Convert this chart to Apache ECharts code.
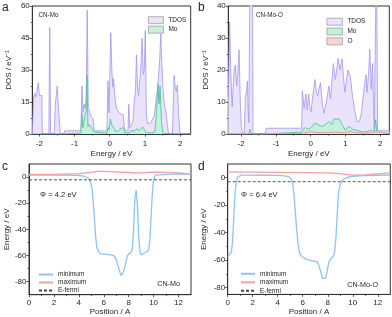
<!DOCTYPE html>
<html><head><meta charset="utf-8">
<script src="https://cdn.jsdelivr.net/npm/echarts@6/dist/echarts.min.js"></script>
<style>html,body{margin:0;padding:0;background:#fff}#c{width:392px;height:317px}</style>
</head><body><div id="c"></div>
<script>
// ---------- Panel a : CN-Mo DOS (energy eV, DOS) ----------
const tdosA = [[-2.2,0],[-2.18,0],[-2.16,17],[-2.13,19],[-2.1,17.5],[-2.07,20],[-2.03,24],[-2.0,18],[-1.97,17.5],[-1.93,18],[-1.915,0],
 [-1.73,0],[-1.705,50],[-1.68,0],
 [-1.58,0],[-1.545,14],[-1.52,18],[-1.49,22.5],[-1.46,13],[-1.42,4],[-1.41,0],
 [-1.3,0],[-1.28,1.5],[-0.82,1.5],[-0.79,22.5],[-0.76,10],[-0.73,14],[-0.70,12],[-0.67,16],[-0.64,58],[-0.61,12],[-0.58,11],[-0.54,8.5],[-0.5,8.2],[-0.47,7],[-0.44,1.5],
 [-0.08,1.5],[-0.05,25],[-0.02,10],[0.01,10],[0.03,47.5],[0.06,30],[0.09,22],[0.11,26],[0.14,18],[0.19,12],[0.25,10.5],[0.3,9.5],[0.35,9],[0.38,9],[0.42,3],[0.45,1.5],
 [0.52,1.5],[0.54,14],[0.57,3],[0.62,3],[0.66,6],[0.7,16],[0.73,20],[0.76,37],[0.79,22],[0.82,18],[0.85,25],[0.88,30],[0.92,45],[0.95,28],[0.98,30],[1.01,48.5],[1.04,10],[1.07,5],
 [1.15,5],[1.2,5.5],[1.26,8],[1.31,15],[1.36,22],[1.39,28],[1.42,35],[1.45,47],[1.48,33],[1.51,22],[1.55,14],[1.6,10],[1.64,4],[1.67,0],
 [1.78,0],[1.83,27.5],[1.86,22],[1.89,20],[1.92,23],[1.96,8],[2.0,0],[2.3,0]];
const moA = [[-2.2,0],[-1.28,0],[-0.82,0.5],[-0.79,9.5],[-0.76,3],[-0.73,2.5],[-0.70,9],[-0.67,10.5],[-0.645,27.5],[-0.62,3.5],[-0.58,4.5],[-0.55,5],[-0.5,2.5],[-0.46,1],[-0.44,0.3],
 [-0.08,0.3],[-0.05,3],[-0.02,2],[0.02,7],[0.05,4.5],[0.09,5],[0.13,2.5],[0.18,1],[0.25,1.5],[0.3,2.5],[0.35,3.2],[0.39,3],[0.43,0.5],[0.55,0.5],[0.6,1.5],[0.7,1.5],[0.78,2.5],[0.82,1.5],[0.88,2.5],[0.94,3.2],[0.99,3],[1.03,0.8],
 [1.2,0.5],[1.28,1],[1.32,8],[1.37,23.5],[1.40,14],[1.43,22.5],[1.47,6],[1.51,0.5],[1.6,0.2],[2.3,0]];

// ---------- Panel b : CN-Mo-O DOS ----------
const tdosB = [[-2.37,12],[-2.33,35],[-2.3,20],[-2.26,8.5],[-2.21,19],[-2.17,21.5],[-2.13,15],[-2.09,20],[-2.06,26.3],[-2.03,12],[-2.0,3],[-1.97,0.3],[-1.91,0.3],[-1.88,11.5],[-1.85,13],[-1.82,16.5],[-1.8,8],[-1.78,3.5],[-1.76,30],[-1.74,60],[-1.70,70],[-1.675,55],[-1.66,0],
 [-1.3,0],[-1.28,1.8],[-0.26,1.8],[-0.24,13.5],[-0.19,8],[-0.14,12.5],[-0.1,7.5],[-0.06,12.5],[-0.02,8],[0.01,7],[0.06,12],[0.12,17],[0.17,13],[0.2,12],[0.28,16],[0.33,10],[0.38,6.5],[0.45,10],[0.52,15],[0.57,11],[0.65,22],[0.71,17],[0.79,23.7],[0.84,20],[0.9,23.5],[0.98,13],[1.07,20],[1.14,18],[1.2,12],[1.27,7],[1.33,3.8],[1.4,4],[1.45,6],[1.52,13],[1.59,18.5],[1.62,13],[1.67,20],[1.70,26.5],[1.74,14],[1.78,22],[1.81,8],[1.83,1.5],[1.87,1],[1.89,60],[1.91,60],[1.925,1],[2.26,1]];
const moB = [[-2.37,0],[-1.78,0],[-1.75,1.5],[-1.72,0.2],[-1.66,0],[-1.3,0],[-1.28,0.6],[-0.26,0.6],[-0.22,1.5],[-0.15,2],[-0.08,1.5],[0.0,2],[0.06,2.5],[0.12,3.5],[0.2,3],[0.28,2.5],[0.36,2.5],[0.45,3.2],[0.52,4],[0.6,3],[0.67,4.8],[0.75,4.5],[0.81,4.9],[0.9,3],[0.99,1.3],[1.06,2],[1.13,2.3],[1.2,1.5],[1.27,1.3],[1.37,1],[1.5,0.6],[1.65,0.8],[1.75,1.2],[1.82,0.5],[1.87,4.5],[1.9,0.3],[2.26,0.2]];
const oB = [[-2.37,0],[-1.28,0],[-1.27,0.2],[-0.26,0.2],[-0.2,0.4],[-0.05,0.6],[0.02,0.9],[0.1,0.5],[0.3,0.4],[0.5,0.5],[0.7,0.6],[0.9,0.4],[1.05,0.6],[1.15,0.9],[1.25,0.5],[1.5,0.3],[1.75,0.4],[1.85,0.8],[1.9,0.3],[2.26,0.1]];

// ---------- Panel c : CN-Mo potential (position A, energy eV) ----------
const minC = [[0,1.5],[1,1.5],[2,1.5],[3,1.5],[4,1.2],[4.4,0.8],[4.7,-0.5],[4.9,-3],[5.05,-8],[5.15,-18],[5.25,-32],[5.35,-46],[5.45,-54],[5.6,-57.5],[5.8,-58.8],[6.2,-59.2],[6.6,-59.6],[6.85,-60.5],[7.0,-63],[7.15,-68],[7.3,-73],[7.4,-75.5],[7.5,-75],[7.6,-72],[7.75,-66],[7.9,-60],[8.05,-59],[8.2,-57.5],[8.3,-54],[8.4,-38],[8.5,-16],[8.6,-10],[8.7,-22],[8.8,-45],[8.9,-57],[9.0,-59.5],[9.2,-58.5],[9.4,-57.5],[9.6,-56],[9.7,-48],[9.8,-30],[9.9,-12],[10.0,-2],[10.15,1.5],[10.3,2],[11,2],[12,2.2],[13,2.3]];
const maxC = [[0,2],[2,2.1],[4,2.6],[5,3.6],[5.5,4.3],[6,4.3],[7,3.9],[8,3.5],[8.5,3.3],[9,3.2],[9.5,3.6],[10,3.8],[11,3.6],[12,3.1],[13,2.5]];
const fermiC = [[0,-2.1],[13,-2.1]];

// ---------- Panel d : CN-Mo-O potential ----------
const minD = [[0,-57.7],[0.15,-57],[0.3,-54],[0.4,-45],[0.48,-30],[0.55,-17],[0.62,-8],[0.7,-2.5],[0.8,0.5],[0.95,1.6],[1.1,1.9],[2,1.9],[3,1.8],[4,1.7],[4.5,1.4],[4.9,0.8],[5.1,-1],[5.2,-4],[5.3,-12],[5.4,-24],[5.5,-36],[5.6,-46],[5.7,-53],[5.8,-56],[6.0,-57.7],[6.3,-59.5],[6.8,-60.5],[7.15,-61.3],[7.3,-64],[7.45,-69],[7.6,-73.5],[7.75,-74.8],[7.85,-73],[7.95,-68],[8.1,-61],[8.3,-58.5],[8.45,-57],[8.55,-54],[8.65,-44],[8.75,-28],[8.85,-12],[9.0,-4.5],[9.2,-1.5],[9.5,0],[9.8,0.8],[10.5,1.4],[11,1.6],[12,1.8],[13,1.9]];
const maxD = [[0,4.3],[2,4.1],[4,3.9],[6,3.7],[8,3.5],[8.8,3.1],[9.4,2.5],[10,1.9],[10.5,1.8],[11,2.0],[12,2.8],[13,3.5]];
const fermiD = [[0,-2.9],[13,-2.9]];

// ---------- tick values ----------
const eTicks = [-2,-1,0,1,2], eMinor = [-1.5,-0.5,0.5,1.5];
const dosTicksA = [0,15,30,45,60], dosMinorA = [7.5,22.5,37.5,52.5];
const dosTicksB = [0,10,20,30,40], dosMinorB = [5,15,25,35];
const posTicks = [0,2,4,6,8,10,12], posMinor = [1,3,5,7,9,11];
const potTicks = [-80,-60,-40,-20,0], potMinor = [-70,-50,-30,-10];

const FF = '"Liberation Sans", Arial, sans-serif';
const AX = '#333', TXT = '#262626';
const xAxes = [], yAxes = [];
function panel(g, xr, xMaj, xMin, yr, yMaj, yMin, xName, yName, xMargin, xGap, yGap) {
  const xi = xAxes.length, yi = yAxes.length;
  const tick = (vals, len) => ({show: true, length: len, customValues: vals, lineStyle: {color: AX, width: 0.8}});
  xAxes.push({gridIndex: g, type: 'value', min: xr[0], max: xr[1], position: 'bottom',
    name: xName, nameLocation: 'middle', nameGap: xGap, nameTextStyle: {fontSize: 8, color: TXT, fontFamily: FF},
    axisLine: {show: true, onZero: false, lineStyle: {color: AX, width: 1}}, axisTick: tick(xMaj, 2.5),
    axisLabel: {customValues: xMaj, fontSize: 8, color: TXT, fontFamily: FF, margin: xMargin}, splitLine: {show: false}});
  xAxes.push({gridIndex: g, type: 'value', min: xr[0], max: xr[1], position: 'bottom',
    axisLine: {show: false, onZero: false}, axisTick: tick(xMin, 1.5), axisLabel: {show: false}, splitLine: {show: false}});
  yAxes.push({gridIndex: g, type: 'value', min: yr[0], max: yr[1], position: 'left',
    name: yName, nameLocation: 'middle', nameGap: yGap, nameTextStyle: {fontSize: 8, color: TXT, fontFamily: FF},
    axisLine: {show: true, onZero: false, lineStyle: {color: AX, width: 1}}, axisTick: tick(yMaj, 2.5),
    axisLabel: {customValues: yMaj, fontSize: 8, color: TXT, fontFamily: FF, margin: 2.5}, splitLine: {show: false}});
  yAxes.push({gridIndex: g, type: 'value', min: yr[0], max: yr[1], position: 'left',
    axisLine: {show: false, onZero: false}, axisTick: tick(yMin, 1.5), axisLabel: {show: false}, splitLine: {show: false}});
  return [xi, yi];
}
const pa = panel(0, [-2.2, 2.3], eTicks, eMinor, [0, 60], dosTicksA, dosMinorA, 'Energy / eV', 'DOS / eV⁻¹', 5.5, 15.3, 20);
const pb = panel(1, [-2.37, 2.26], eTicks, eMinor, [0, 40], dosTicksB, dosMinorB, 'Energy / eV', 'DOS / eV⁻¹', 5.5, 16, 18.3);
const pc = panel(2, [0, 13], posTicks, posMinor, [-90, 10], potTicks, potMinor, 'Position / A', 'Energy / eV', 4, 13.3, 16.7);
const pd = panel(3, [0, 13], posTicks, posMinor, [-85, 10], potTicks, potMinor, 'Position / A', 'Energy / eV', 4.7, 13, 19.7);

const C = {
  tdosLine: '#a396ec', tdosFill: '#e9e4fb', moLine: '#3cc394', moFill: '#c6efdd', oLine: '#ec8c8c', oFill: '#f8d6d6',
  minLine: '#8ec4f2', maxLine: '#f3a0a0', fermi: '#444'
};
function dos(name, p, data, line, fill, z) {
  return {type: 'line', name, xAxisIndex: p[0], yAxisIndex: p[1], data, symbol: 'none', showSymbol: false, z,
    lineStyle: {color: line, width: 0.8}, itemStyle: {color: line}, areaStyle: {color: fill, opacity: 1}};
}
function pot(name, p, data, color, width, dash) {
  return {type: 'line', name, xAxisIndex: p[0], yAxisIndex: p[1], data, symbol: 'circle', showSymbol: false,
    lineStyle: {color, width, type: dash || 'solid'}, itemStyle: {color}};
}
const grid = (l, t, w, h) => ({left: l, top: t, width: w, height: h, show: true, borderColor: AX, borderWidth: 1, backgroundColor: 'transparent', containLabel: false});
const boxItem = (name, fill) => ({name, icon: 'rect', itemStyle: {color: fill, borderColor: '#a0a0a0', borderWidth: 0.8}});
const lineItem = (name) => ({name, itemStyle: {opacity: 0}});
const legText = {fontSize: 6.5, color: TXT, fontFamily: FF};
const txt = (text, x, y, size, align) => ({type: 'text', x, y, silent: true,
  style: {text, fill: TXT, fontSize: size, fontFamily: FF, align: align || 'left', verticalAlign: 'middle'}});

const option = {
  animation: false,
  backgroundColor: '#fff',
  grid: [grid(32.3, 6, 158.4, 128), grid(228.3, 6, 161, 128), grid(29, 164, 162, 131), grid(227.7, 164, 162.6, 131.3)],
  xAxis: xAxes,
  yAxis: yAxes,
  legend: [
    {orient: 'vertical', left: 143, top: 11.3, itemWidth: 15, itemHeight: 7, itemGap: 1.7, textStyle: legText, selectedMode: false,
      data: [boxItem('TDOS', C.tdosFill), boxItem('Mo', C.moFill)]},
    {orient: 'vertical', left: 321.5, top: 12.8, itemWidth: 15.5, itemHeight: 7, itemGap: 2, textStyle: legText, selectedMode: false,
      data: [boxItem('TDOS', C.tdosFill), boxItem('Mo', C.moFill), boxItem('O', C.oFill)]},
    {orient: 'vertical', left: 33, top: 266, itemWidth: 14, itemHeight: 4, itemGap: 1, textStyle: legText, selectedMode: false,
      data: [lineItem('minimum'), lineItem('maximum'), lineItem('E-fermi')]},
    {orient: 'vertical', left: 235, top: 265.3, itemWidth: 14, itemHeight: 4, itemGap: 1.5, textStyle: legText, selectedMode: false,
      data: [lineItem('minimum'), lineItem('maximum'), lineItem('E-fermi')]}
  ],
  graphic: [
    txt('a', 2, 8, 12), txt('b', 198, 8, 12), txt('c', 2, 167, 12), txt('d', 198, 167, 12),
    txt('CN-Mo', 38.5, 15, 6.3), txt('CN-Mo-O', 256, 15, 6.3),
    txt('Φ = 4.2 eV', 40, 194.7, 7.6), txt('Φ = 6.4 eV', 241, 195, 7.6),
    txt('CN-Mo', 180, 284, 7.2, 'right'), txt('CN-Mo-O', 378, 285, 7.2, 'right')
  ],
  series: [
    dos('TDOS', pa, tdosA, C.tdosLine, C.tdosFill, 2),
    dos('Mo', pa, moA, C.moLine, C.moFill, 3),
    dos('TDOS', pb, tdosB, C.tdosLine, C.tdosFill, 2),
    dos('Mo', pb, moB, C.moLine, C.moFill, 3),
    dos('O', pb, oB, C.oLine, C.oFill, 4),
    pot('minimum', pc, minC, C.minLine, 1.3),
    pot('maximum', pc, maxC, C.maxLine, 1.3),
    pot('E-fermi', pc, fermiC, C.fermi, 0.9, [3, 2]),
    pot('minimum', pd, minD, C.minLine, 1.3),
    pot('maximum', pd, maxD, C.maxLine, 1.3),
    pot('E-fermi', pd, fermiD, C.fermi, 0.9, [3, 2])
  ]
};
const chart = echarts.init(document.getElementById('c'), null, {renderer: 'canvas'});
chart.setOption(option);
</script></body></html>
